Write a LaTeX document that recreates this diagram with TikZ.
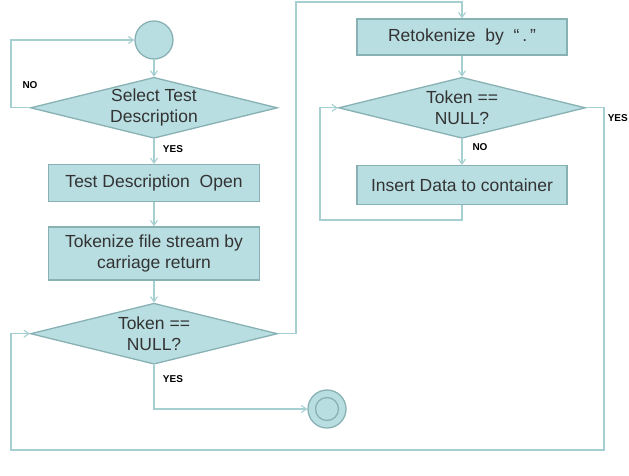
\documentclass[tikz,border=0pt]{standalone}
\usepackage{fontspec}
\setmainfont{Liberation Sans}
\usepackage{xcolor}
\definecolor{BoxFill}{HTML}{B9DEE2}
\definecolor{BoxLine}{HTML}{88B1B4}
\definecolor{FlowLine}{HTML}{A6CFD1}
\definecolor{DarkText}{HTML}{333333}
\usepackage{tikz}
\usetikzlibrary{arrows.meta,positioning,shapes.geometric}

\begin{document}
\begin{tikzpicture}[
  x=1pt,y=1pt,
  font=\fontsize{17.5}{21}\selectfont,
  text=DarkText,
  proc/.style={
    draw=BoxLine,line width=1.3pt,fill=BoxFill,
    minimum width=211pt,inner sep=0pt,align=center
  },
  cond/.style={
    diamond,draw=BoxLine,line width=1.3pt,fill=BoxFill,
    aspect=4.05,minimum width=247pt,minimum height=61pt,
    inner sep=0pt,align=center
  },
  term/.style={
    circle,draw=BoxLine,line width=1.3pt,fill=BoxFill,
    minimum size=38pt,inner sep=0pt
  },
  lbl/.style={font=\fontsize{10}{12}\selectfont\bfseries,text=black},
  arr/.style={-{Straight Barb[length=5pt,width=7pt]},line width=1.1pt,FlowLine}
]
  \useasboundingbox (0,0) rectangle (629,-475);

  \node[term] (start) at (154,-40) {};
  \node[cond] (sel)   [below=17pt of start] {Select Test\\Description};
  \node[proc,minimum height=37pt] (open) [below=25pt of sel] {Test Description~~Open};
  \node[proc,minimum height=53pt] (tok)  [below=24pt of open] {Tokenize file stream by\\carriage return};
  \node[cond] (nul)   [below=22pt of tok] {Token ==\\NULL?};

  \node[proc,minimum width=210pt,minimum height=36pt] (retok) at (462,-37) {Retokenize~ by~ ``\,.\,''};
  \node[cond] (nul2)  [below=21pt of retok] {Token ==\\NULL?};
  \node[proc,minimum width=210pt,minimum height=39pt] (ins) [below=26pt of nul2] {Insert Data to container};

  \node[term] (stop) at (327,-409) {};
  \draw[BoxLine,line width=1.3pt] (stop.center) circle (11.5pt);

  \coordinate (lx)    at (11,-40);
  \coordinate (topc)  at (296,-2);
  \coordinate (inlp)  at (320,-220);
  \coordinate (outr)  at (604,-450);
  \coordinate (outl)  at (11,-450);

  \draw[arr] (start) -- (sel);
  \draw[arr] (sel.west) -- (sel.west -| lx) |- (start.west);
  \draw[arr] (sel) -- (open);
  \draw[arr] (open) -- (tok);
  \draw[arr] (tok) -- (nul);
  \draw[arr] (nul.east) -| (topc) -| (retok.north);
  \draw[arr] (retok) -- (nul2);
  \draw[arr] (nul2) -- (ins);
  \draw[arr] (ins.south) |- (inlp) |- (nul2.west);
  \draw[arr] (nul2.east) -| (outr) -- (outl) |- (nul.west);
  \draw[arr] (nul.south) |- (stop.west);

  \node[lbl] (no1)  at (30,-85)   {NO};
  \node[lbl] (yes1) at (173,-149) {YES};
  \node[lbl] (no2)  at (480,-147) {NO};
  \node[lbl,anchor=east,inner xsep=1pt] (yes3) at (629,-118) {YES};
  \node[lbl] (yes2) at (173,-379) {YES};
\end{tikzpicture}
\end{document}
